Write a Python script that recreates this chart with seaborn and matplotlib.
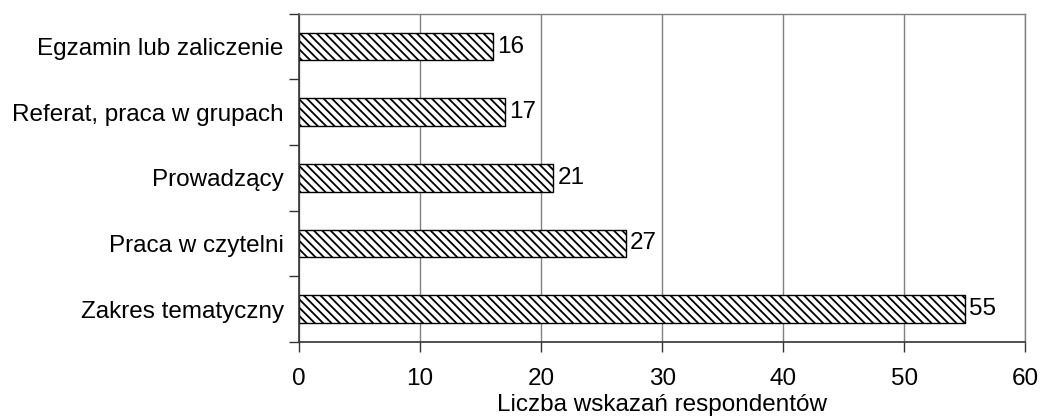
import pandas as pd
import matplotlib
matplotlib.use('Agg')
from matplotlib import pyplot as plt
from matplotlib.ticker import FixedLocator, NullFormatter
import seaborn as sns

categories = ['Egzamin lub zaliczenie', 'Referat, praca w grupach', 'Prowadzący',
              'Praca w czytelni', 'Zakres tematyczny']
values = [16, 17, 21, 27, 55]
x_ticks = [0, 10, 20, 30, 40, 50, 60]
x_label = 'Liczba wskazań respondentów'

df = pd.DataFrame({'category': categories, 'count': values})

sns.set_style('white')
plt.rcParams['font.family'] = ['Liberation Sans', 'DejaVu Sans']
plt.rcParams['hatch.linewidth'] = 1.3
plt.rcParams['text.color'] = 'black'
plt.rcParams['xtick.color'] = 'black'
plt.rcParams['ytick.color'] = 'black'
plt.rcParams['axes.labelcolor'] = 'black'

fs = 17.5

fig = plt.figure(figsize=(10.42, 4.19), dpi=100)
ax = fig.add_axes([0.287, 0.184, 0.697, 0.783])

sns.barplot(data=df, x='count', y='category', orient='h', color='white',
            edgecolor='black', linewidth=1.0, width=0.42, ax=ax)
for bar in ax.patches:
    bar.set_hatch('\\\\\\\\')
    bar.set_facecolor('white')
    bar.set_edgecolor('black')

# value labels at bar ends
for i, v in enumerate(values):
    ax.text(v + 0.35, i, str(v), va='center', ha='left', fontsize=fs)

ax.set_xlim(0, 60)
ax.set_ylim(4.5, -0.5)
ax.set_xticks(x_ticks)
ax.xaxis.grid(True, color='#808080', linewidth=1.0)
ax.set_axisbelow(True)

# y ticks at the category boundaries
ax.yaxis.set_minor_locator(FixedLocator([-0.5, 0.5, 1.5, 2.5, 3.5, 4.5]))
ax.yaxis.set_minor_formatter(NullFormatter())
ax.tick_params(axis='y', which='major', length=0, labelsize=fs, pad=11)
ax.tick_params(axis='y', which='minor', left=True, length=7, width=1, color='#333333', direction='out')
ax.tick_params(axis='x', which='major', bottom=True, length=7, width=1, color='#333333',
               direction='out', labelsize=fs, pad=12)

ax.set_xlabel(x_label, fontsize=fs, labelpad=3)
ax.set_ylabel('')

for side in ['left', 'bottom']:
    ax.spines[side].set_color('#333333')
    ax.spines[side].set_linewidth(1.2)
for side in ['top', 'right']:
    ax.spines[side].set_color('#808080')
    ax.spines[side].set_linewidth(1.0)

fig.savefig('out.png', dpi=100)
